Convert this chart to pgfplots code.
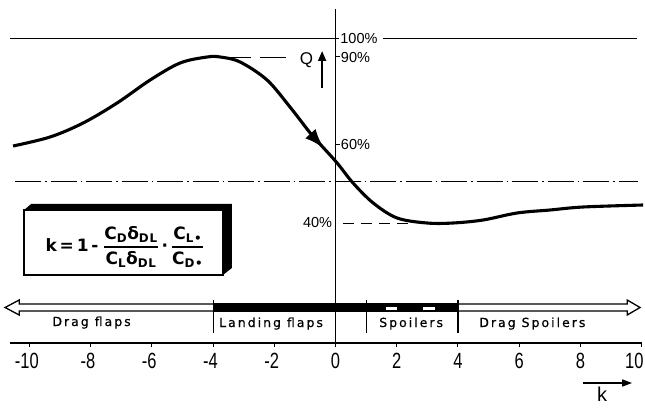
\documentclass[border=0pt]{standalone}
\usepackage{pgfplots}
\pgfplotsset{compat=1.18}
\usepackage{amsmath}
\usepackage{fontspec}
\setmainfont{DejaVu Sans}
\newfontfamily\tickfont[FakeStretch=0.75]{Liberation Sans}
\newfontfamily\pctfont{Liberation Sans}
\newfontfamily\bandfont[LetterSpace=16,FakeBold=0.6]{DejaVu Sans}
\newfontfamily\formfont[LetterSpace=6]{DejaVu Sans}
\usetikzlibrary{arrows.meta,decorations.markings,calc}

% Q over k (vertical scale in drawing units, see reference lines below)
\pgfplotstableread{
k      v
-10.54 197
-9.33  206
-8.25  220
-7.14  240
-6.06  263
-5.08  280
-4.20  286
-3.77  286
-3.12  281
-2.24  263
-1.49  236
-0.83  210
-0.51  199
0.05   180
0.57   160
1.23   140
2.01   125
2.99   120
3.84   120
4.82   123
5.93   130
7.01   133
8.09   136
10.05  138
}\curve

\begin{document}
\begin{tikzpicture}
\begin{axis}[
  x=30.6pt, y=1pt,
  xmin=-10.64, xmax=10.02, ymin=0, ymax=334,
  enlargelimits=false,
  axis x line=middle, axis y line=middle,
  axis line style={-, line width=1.2pt, black},
  xtick={-10,-8,...,10},
  xticklabels={\llap{-}10,\llap{-}8,\llap{-}6,\llap{-}4,\llap{-}2,0,2,4,6,8,\llap{10\kern-2pt}},
  xticklabel style={font=\tickfont\fontsize{22}{23}\selectfont, yshift=-3pt},
  hide obscured x ticks=false,
  ytick=\empty,
  major tick length=4pt,
  tick align=outside,
  tick style={line width=1pt, black},
  clip=false,
  no markers,
]
\coordinate (bl) at (axis cs:-10.64,0);

% reference lines
\addplot[black, line width=1pt] coordinates {(-10.64,304) (0.12,304)};
\addplot[black, line width=1pt] coordinates {(1.55,304) (9.85,304)};
\addplot[black, line width=1pt, dash pattern=on 26pt off 4pt on 1.5pt off 4pt]
  coordinates {(-10.47,161) (9.89,161)};
\addplot[black, line width=0.9pt, dash pattern=on 26pt off 9pt]
  coordinates {(-3.6,286) (-1.62,286)};
\addplot[black, line width=0.9pt, dash pattern=on 11pt off 7pt]
  coordinates {(0.25,120) (2.6,120)};
\addplot[black, line width=1pt] coordinates {(0,286) (0.14,286)};
\addplot[black, line width=1pt] coordinates {(0,198) (0.14,198)};

% percentage labels
\node[anchor=west, inner sep=0, font=\pctfont\fontsize{14.5}{14.5}\selectfont] at (axis cs:0.15,304) {100\%};
\node[anchor=west, inner sep=0, font=\pctfont\fontsize{14.5}{14.5}\selectfont] at (axis cs:0.17,285) {90\%};
\node[anchor=west, inner sep=0, font=\pctfont\fontsize{14.5}{14.5}\selectfont] at (axis cs:0.17,198) {60\%};
\node[anchor=east, inner sep=0, font=\pctfont\fontsize{14.5}{14.5}\selectfont] at (axis cs:-0.11,120) {40\%};

% Q with upward arrow
\node[inner sep=0, font=\pctfont\fontsize{17}{17}\selectfont] at (axis cs:-0.95,283) {Q};
\draw[line width=1.7pt, -{Triangle[length=10pt,width=8pt]}] (axis cs:-0.44,255) -- (axis cs:-0.44,292);

% the curve
\addplot[black, line width=3.1pt, smooth, tension=0.55,
  postaction={decorate},
  decoration={markings, mark=at position 0.515 with {\arrow{Latex[length=20pt,width=14pt]}}}]
  table {\curve};

% formula box with shaded edge
\fill (axis cs:-10.18,133) -- (axis cs:-9.95,139) -- (axis cs:-3.39,139) -- (axis cs:-3.39,75)
  -- (axis cs:-3.68,68) -- (axis cs:-3.68,133) -- cycle;
\draw[line width=1.2pt, fill=white] (axis cs:-10.18,133) rectangle (axis cs:-3.68,68);
\node[inner sep=0, font=\formfont\bfseries\fontsize{17}{17}\selectfont] at (axis cs:-6.88,96)
  {k\,=\,1\,-\;$\genfrac{}{}{1.4pt}{0}{\mbox{C\textsubscript{D}δ\textsubscript{DL}}}{\mbox{C\textsubscript{L}δ\textsubscript{DL}}}$\,·\,$\genfrac{}{}{1.4pt}{0}{\mbox{C\textsubscript{L•}}}{\mbox{C\textsubscript{D•}}}$};

% range band
\addplot[draw=black, fill=white, line width=1.3pt] coordinates {
  (-10.80,35.5) (-10.34,43) (-10.34,39) (9.53,39) (9.53,43) (9.95,35.5)
  (9.53,28) (9.53,32) (-10.34,32) (-10.34,28)} -- cycle;
\addplot[draw=black, fill=black, line width=1.3pt] coordinates {(-4,32) (4,32) (4,39) (-4,39)} -- cycle;
\addplot[draw=none, fill=white] coordinates {(1.65,33.5) (2.0,33.5) (2.0,36) (1.65,36)} -- cycle;
\addplot[draw=none, fill=white] coordinates {(2.85,33.5) (3.25,33.5) (3.25,36) (2.85,36)} -- cycle;
\addplot[black, line width=1.3pt] coordinates {(-4,10) (-4,43)};
\addplot[black, line width=1.3pt] coordinates {(1,10) (1,43)};
\addplot[black, line width=1.3pt] coordinates {(4,10) (4,43)};

\node[anchor=base west, inner sep=0, font=\bandfont\fontsize{12.5}{12.5}\selectfont] at (axis cs:-9.26,17) {Drag flaps};
\node[anchor=base west, inner sep=0, font=\bandfont\fontsize{12.5}{12.5}\selectfont] at (axis cs:-3.81,16) {Landing flaps};
\node[anchor=base west, inner sep=0, font=\bandfont\fontsize{12.5}{12.5}\selectfont] at (axis cs:1.42,16) {Spoilers};
\node[anchor=base west, inner sep=0, font=\bandfont\fontsize{12.5}{12.5}\selectfont] at (axis cs:4.69,16) {Drag Spoilers};

% k direction
\draw[line width=1.5pt, -{Triangle[length=10pt,width=7pt]}] (axis cs:8.09,-40) -- (axis cs:9.69,-40);
\node[inner sep=0, font=\pctfont\fontsize{20}{20}\selectfont] at (axis cs:8.71,-51) {k};
\end{axis}
\pgfresetboundingbox
\useasboundingbox ($(bl)+(-10pt,-64pt)$) rectangle ++(645pt,407pt);
\end{tikzpicture}
\end{document}
